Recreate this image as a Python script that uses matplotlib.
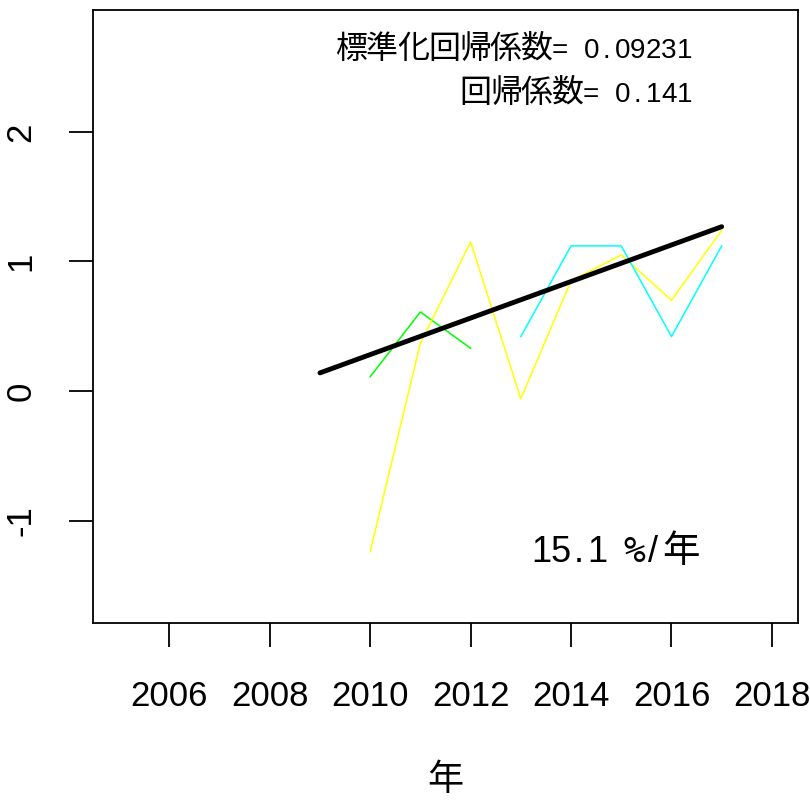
import numpy as np
import matplotlib
matplotlib.use("Agg")
import matplotlib.pyplot as plt

plt.rcParams['font.family'] = ['Liberation Sans', 'Noto Sans CJK JP', 'DejaVu Sans']

# series
years_green = [2010, 2011, 2012]
vals_green = [0.11, 0.61, 0.33]

years_yellow = [2010, 2011, 2012, 2013, 2014, 2015, 2016, 2017]
vals_yellow = [-1.24, 0.37, 1.15, -0.06, 0.85, 1.05, 0.70, 1.24]

years_cyan = [2013, 2014, 2015, 2016, 2017]
vals_cyan = [0.42, 1.12, 1.12, 0.42, 1.12]

# regression line
fit_years = [2009, 2017]
fit_start = 0.14
slope = 0.141

x_ticks = [2006, 2008, 2010, 2012, 2014, 2016, 2018]
y_ticks = [-1, 0, 1, 2]

txt_std = "標準化回帰係数= 0.09231"
txt_coef = "回帰係数= 0.141"
txt_rate = "15.1 %/年"

DPI = 100


def mono_text(ax, x, y, s, cell_px, latin_size, cjk_size):
    # fixed-pitch layout, right aligned at (x, y) in axes fraction, baseline at y
    widths = [cell_px if ord(c) < 128 else 2 * cell_px for c in s]
    pos = -sum(widths)
    for c, w in zip(s, widths):
        cx = (pos + w / 2) * 72 / DPI
        pos += w
        if c == ' ':
            continue
        if c == '%':
            fam, size = ['DejaVu Sans Mono'], latin_size
        elif ord(c) < 128:
            fam, size = ['Liberation Sans'], latin_size
        else:
            fam, size = ['Noto Sans CJK JP'], cjk_size
        ax.annotate(c, xy=(x, y), xycoords='axes fraction',
                    xytext=(cx, 0), textcoords='offset points',
                    ha='center', va='baseline', fontsize=size, family=fam)


fig = plt.figure(figsize=(8.1, 8.02), dpi=DPI)
ax = fig.add_axes([0.1148, 0.2232, 0.8704, 0.7643])

ax.plot(years_green, vals_green, color='#00FF00', lw=1.1)
ax.plot(years_yellow, vals_yellow, color='#FFFF00', lw=1.1)
ax.plot(years_cyan, vals_cyan, color='#00FFFF', lw=1.1)
fit_vals = [fit_start + slope * (y - fit_years[0]) for y in fit_years]
ax.plot(fit_years, fit_vals, color='black', lw=3.5, solid_capstyle='round')

ax.set_xlim(2004.48, 2018.52)
ax.set_ylim(-1.79, 2.94)
ax.set_xticks(x_ticks)
ax.set_yticks(y_ticks)
ax.set_yticklabels([str(v) for v in y_ticks], rotation=90, va='center')
ax.tick_params(axis='both', length=17, width=1.3, labelsize=25, colors='black')
ax.tick_params(axis='x', pad=24)
ax.tick_params(axis='y', pad=23)
for s in ax.spines.values():
    s.set_linewidth(1.3)

ax.set_xlabel("年", fontsize=26, labelpad=36)

mono_text(ax, 0.8496, 0.9217, txt_std, 15.5, 20, 23)
mono_text(ax, 0.8496, 0.850, txt_coef, 15.5, 20, 23)
mono_text(ax, 0.8596, 0.0995, txt_rate, 18.5, 26, 27)

fig.savefig("out.png", dpi=DPI)
